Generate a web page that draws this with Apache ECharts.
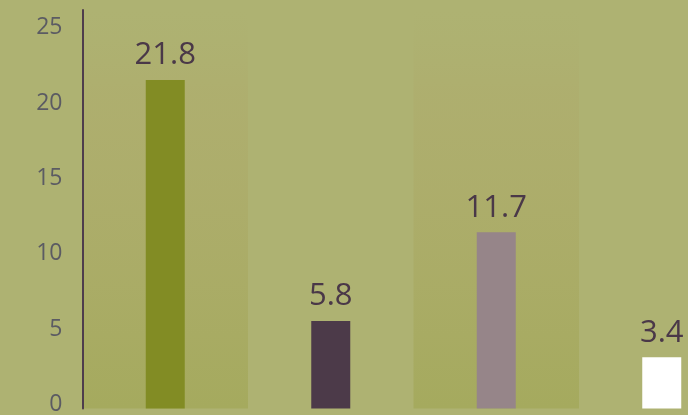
<!DOCTYPE html>
<html>
<head>
<meta charset="utf-8">
<script src="https://cdn.jsdelivr.net/npm/echarts@6/dist/echarts.min.js"></script>
<style>
html,body{margin:0;padding:0;background:#aeb272;}
#chart{width:688px;height:415px;}
</style>
</head>
<body>
<div id="chart"></div>
<script>
const categories = ['A', 'B', 'C', 'D'];
const values = [21.8, 5.8, 11.7, 3.4];
const barColors = ['#828c24', '#4c3a49', '#968589', '#ffffff'];
const yTicks = [0, 5, 10, 15, 20, 25];

const chart = echarts.init(document.getElementById('chart'));
const bandGradient = new echarts.graphic.LinearGradient(0, 0, 0, 1, [
  { offset: 0, color: 'rgba(172,170,104,0)' },
  { offset: 0.2, color: 'rgba(174,164,100,0.25)' },
  { offset: 0.45, color: 'rgba(170,164,94,0.35)' },
  { offset: 1, color: 'rgba(156,162,74,0.5)' }
]);
chart.setOption({
  backgroundColor: '#aeb272',
  animation: false,
  grid: { left: 82.5, top: 10, width: 662, height: 398.5, outerBoundsMode: 'none', containLabel: false },
  xAxis: {
    type: 'category',
    data: categories,
    axisLine: { show: false },
    axisTick: { show: false },
    axisLabel: { show: false },
    splitArea: { show: true, areaStyle: { color: [bandGradient, 'rgba(0,0,0,0)'] } }
  },
  yAxis: {
    type: 'value',
    min: yTicks[0],
    max: 26.45,
    interval: 5,
    axisLine: { show: true, lineStyle: { color: '#4e3d4c', width: 2 } },
    axisTick: { show: false },
    splitLine: { show: false },
    axisLabel: {
      showMaxLabel: false,
      margin: 20,
      formatter: v => '{t|' + v + '}',
      rich: {
        t: {
          color: '#5b5b63',
          fontSize: 23,
          fontFamily: 'Open Sans',
          padding: [0, 0, 8, 0]
        }
      }
    }
  },
  series: [{
    type: 'bar',
    barWidth: 39,
    data: values.map((v, i) => ({ value: v, itemStyle: { color: barColors[i] } })),
    label: {
      show: true,
      position: 'top',
      distance: 9,
      color: '#4a3848',
      fontSize: 31,
      fontFamily: 'Open Sans'
    }
  }]
});
</script>
</body>
</html>
